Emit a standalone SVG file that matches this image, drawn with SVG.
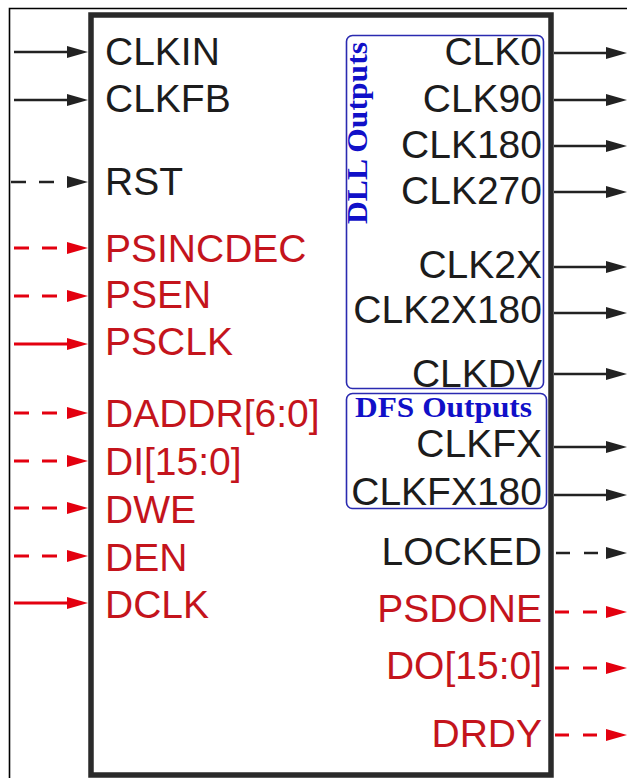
<svg xmlns="http://www.w3.org/2000/svg" width="627" height="778" viewBox="0 0 627 778">
  <style>
    .lbl { font-family: "Liberation Sans", Arial, sans-serif; font-size: 39px; }
    .blk { fill: #1c1c1c; }
    .red { fill: #c4141c; }
    .r { text-anchor: end; }
    .grp { font-family: "Liberation Serif", "Times New Roman", serif; font-weight: bold; font-size: 29px; fill: #1010c8; }
    .wire-k { stroke: #222; stroke-width: 2.6; fill: none; marker-end: url(#ah-k); }
    .wire-r { stroke: #e3000f; stroke-width: 2.8; fill: none; marker-end: url(#ah-r); }
    .dash-l { stroke-dasharray: 15 13; }
    .dash-r { stroke-dasharray: 14 14; }
  </style>
  <defs>
    <marker id="ah-k" markerUnits="userSpaceOnUse" markerWidth="21" markerHeight="14" refX="0" refY="7" orient="auto" viewBox="0 0 21 14">
      <path d="M0,1 L21,7 L0,13 z" fill="#222"/>
    </marker>
    <marker id="ah-r" markerUnits="userSpaceOnUse" markerWidth="21" markerHeight="14" refX="0" refY="7" orient="auto" viewBox="0 0 21 14">
      <path d="M0,1 L21,7 L0,13 z" fill="#e3000f"/>
    </marker>
  </defs>

  <rect width="627" height="778" fill="#fff"/>
  <!-- page frame -->
  <path d="M9.5,778 V8.5 H627" fill="none" stroke="#000" stroke-width="1.6"/>

  <!-- DCM primitive block -->
  <g id="dcm">
    <rect x="91" y="15" width="460" height="760" fill="#fff" stroke="#2a2a2a" stroke-width="5.5"/>
    <!-- inputs -->
    <text class="lbl blk" x="105" y="65">CLKIN</text>
    <text class="lbl blk" x="105" y="112">CLKFB</text>
    <text class="lbl blk" x="105" y="195">RST</text>
    <text class="lbl red" x="105" y="262">PSINCDEC</text>
    <text class="lbl red" x="105" y="308">PSEN</text>
    <text class="lbl red" x="105" y="355">PSCLK</text>
    <text class="lbl red" x="105" y="427">DADDR[6:0]</text>
    <text class="lbl red" x="105" y="475">DI[15:0]</text>
    <text class="lbl red" x="105" y="523">DWE</text>
    <text class="lbl red" x="105" y="571">DEN</text>
    <text class="lbl red" x="105" y="618">DCLK</text>
    <!-- outputs -->
    <text class="lbl blk r" x="542" y="65">CLK0</text>
    <text class="lbl blk r" x="542" y="112">CLK90</text>
    <text class="lbl blk r" x="542" y="158">CLK180</text>
    <text class="lbl blk r" x="542" y="204">CLK270</text>
    <text class="lbl blk r" x="542" y="278">CLK2X</text>
    <text class="lbl blk r" x="542" y="323">CLK2X180</text>
    <text class="lbl blk r" x="542" y="387">CLKDV</text>
    <text class="lbl blk r" x="542" y="457">CLKFX</text>
    <text class="lbl blk r" x="542" y="505">CLKFX180</text>
    <text class="lbl blk r" x="542" y="565">LOCKED</text>
    <text class="lbl red r" x="542" y="622">PSDONE</text>
    <text class="lbl red r" x="542" y="679">DO[15:0]</text>
    <text class="lbl red r" x="542" y="747">DRDY</text>
  </g>

  <!-- DLL output group -->
  <g id="dll-outputs">
    <rect x="346.5" y="35.5" width="197" height="353" rx="6" fill="none" stroke="#2a2ab0" stroke-width="1.6"/>
    <text class="grp" transform="translate(367,224) rotate(-90)" textLength="182" lengthAdjust="spacingAndGlyphs">DLL Outputs</text>
  </g>

  <!-- DFS output group -->
  <g id="dfs-outputs">
    <rect x="346.5" y="393.5" width="200" height="115" rx="6" fill="none" stroke="#2a2ab0" stroke-width="1.6"/>
    <text class="grp" x="355" y="417" textLength="177" lengthAdjust="spacingAndGlyphs">DFS Outputs</text>
  </g>

  <!-- port wires -->
  <g id="connectors">
    <path class="wire-k" d="M14,52 H67"/>
    <path class="wire-k" d="M14,100 H67"/>
    <path class="wire-k dash-l" d="M11,182 H67"/>
    <path class="wire-r dash-l" d="M14,248 H67"/>
    <path class="wire-r dash-l" d="M14,296 H67"/>
    <path class="wire-r" d="M14,344 H67"/>
    <path class="wire-r dash-l" d="M14,413 H67"/>
    <path class="wire-r dash-l" d="M14,461 H67"/>
    <path class="wire-r dash-l" d="M14,508 H67"/>
    <path class="wire-r dash-l" d="M14,556 H67"/>
    <path class="wire-r" d="M14,603 H67"/>

    <path class="wire-k" d="M554,53 H606"/>
    <path class="wire-k" d="M554,100 H606"/>
    <path class="wire-k" d="M554,146 H606"/>
    <path class="wire-k" d="M554,192 H606"/>
    <path class="wire-k" d="M554,267 H606"/>
    <path class="wire-k" d="M554,313 H606"/>
    <path class="wire-k" d="M554,374 H606"/>
    <path class="wire-k" d="M554,447 H606"/>
    <path class="wire-k" d="M554,495 H606"/>
    <path class="wire-k dash-r" d="M556,553 H606"/>
    <path class="wire-r dash-r" d="M555,612 H606"/>
    <path class="wire-r dash-r" d="M555,668 H606"/>
    <path class="wire-r dash-r" d="M555,735 H606"/>
  </g>
</svg>
